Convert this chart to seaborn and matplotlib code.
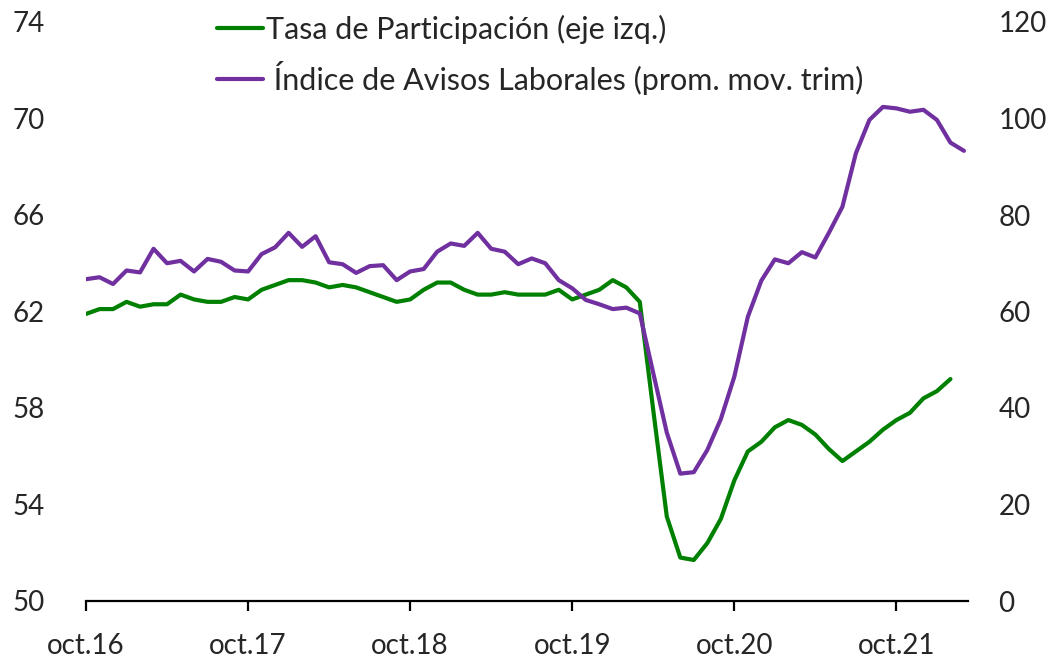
import numpy as np
import pandas as pd
import matplotlib
matplotlib.use("Agg")
import matplotlib.pyplot as plt
import seaborn as sns

# ---- data ----
month_idx_tp = list(range(65))
tasa_participacion = [61.9, 62.1, 62.1, 62.4, 62.2, 62.3, 62.3, 62.7, 62.5, 62.4,
                      62.4, 62.6, 62.5, 62.9, 63.1, 63.3, 63.3, 63.2, 63.0, 63.1,
                      63.0, 62.8, 62.6, 62.4, 62.5, 62.9, 63.2, 63.2, 62.9, 62.7,
                      62.7, 62.8, 62.7, 62.7, 62.7, 62.9, 62.5, 62.7, 62.9, 63.3,
                      63.0, 62.4, 57.9, 53.5, 51.8, 51.7, 52.4, 53.4, 55.0, 56.2,
                      56.6, 57.2, 57.5, 57.3, 56.9, 56.3, 55.8, 56.2, 56.6, 57.1,
                      57.5, 57.8, 58.4, 58.7, 59.2]
month_idx_ial = list(range(66))
indice_avisos = [66.7, 67.1, 65.7, 68.5, 68.1, 73.0, 70.0, 70.5, 68.3, 70.9,
                 70.3, 68.5, 68.3, 71.9, 73.3, 76.3, 73.4, 75.6, 70.2, 69.8,
                 68.0, 69.4, 69.6, 66.5, 68.3, 68.8, 72.4, 74.1, 73.6, 76.3,
                 73.0, 72.4, 69.8, 71.0, 70.0, 66.5, 64.8, 62.4, 61.5, 60.5,
                 60.8, 59.6, 47.2, 34.9, 26.4, 26.7, 31.3, 37.7, 46.5, 58.9,
                 66.4, 70.8, 70.0, 72.3, 71.2, 76.3, 81.7, 92.8, 99.7, 102.4,
                 102.1, 101.4, 101.8, 99.7, 95.0, 93.3]
x_tick_pos = [0, 12, 24, 36, 48, 60]
x_tick_labels = ["oct.16", "oct.17", "oct.18", "oct.19", "oct.20", "oct.21"]
left_ticks = [50, 54, 58, 62, 66, 70, 74]
right_ticks = [0, 20, 40, 60, 80, 100, 120]
label_tp = "Tasa de Participación (eje izq.)"
label_ial = " Índice de Avisos Laborales (prom. mov. trim)"

df_tp = pd.DataFrame({"mes": month_idx_tp, "valor": tasa_participacion})
df_ial = pd.DataFrame({"mes": month_idx_ial, "valor": indice_avisos})

sns.set_style("white")
plt.rcParams["font.family"] = ["Lato", "DejaVu Sans"]
FS = 20
FS_LEG = 22

fig = plt.figure(figsize=(10.59, 6.6), dpi=100)
ax = fig.add_axes([86/1059, 1 - 601/660, (968-86)/1059, (601-22)/660])
ax2 = ax.twinx()

green = "#008000"
purple = "#7030A0"
sns.lineplot(data=df_tp, x="mes", y="valor", ax=ax, color=green, lw=3.0, label=label_tp, legend=False)
sns.lineplot(data=df_ial, x="mes", y="valor", ax=ax2, color=purple, lw=3.0, label=label_ial, legend=False)

ax.set_xlim(0, 65.3)
ax.set_ylim(50, 74)
ax2.set_ylim(0, 120)
ax.set_xticks(x_tick_pos)
ax.set_xticklabels(x_tick_labels)
ax.set_yticks(left_ticks)
ax2.set_yticks(right_ticks)
ax.set_xlabel("")
ax.set_ylabel("")
ax2.set_ylabel("")

for a in (ax, ax2):
    for s in ("top", "right", "left"):
        a.spines[s].set_visible(False)
ax2.spines["bottom"].set_visible(False)
ax.spines["bottom"].set_color("black")
ax.spines["bottom"].set_linewidth(1.6)

ax.tick_params(axis="x", direction="out", length=7, width=1.6, color="black",
               labelsize=FS, pad=16, bottom=True)
ax.tick_params(axis="y", length=0, labelsize=FS, pad=30, left=False)
ax2.tick_params(axis="y", length=0, labelsize=FS, pad=22, right=False)
for lab in ax2.get_yticklabels():
    lab.set_horizontalalignment("left")

h1, l1 = ax.get_legend_handles_labels()
h2, l2 = ax2.get_legend_handles_labels()
leg = fig.legend(h1 + h2, l1 + l2, loc="upper left",
                 bbox_to_anchor=(217/1059, 1 - 15/660), frameon=False,
                 fontsize=FS_LEG, handlelength=1.5, handletextpad=0.12,
                 labelspacing=0.55, borderpad=0, borderaxespad=0)

fig.savefig("out.png", dpi=100)
